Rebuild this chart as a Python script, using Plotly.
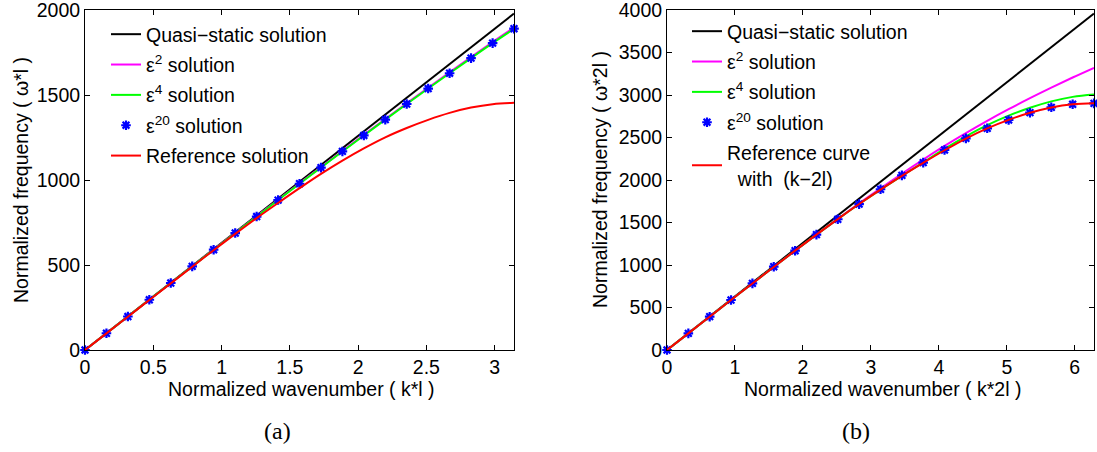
import plotly.graph_objects as go

# ---------------- data ----------------
# (a) normalized wavenumber k*l, 21 samples from 0 to pi
k_a = [0, 0.157, 0.314, 0.471, 0.628, 0.785, 0.942, 1.100, 1.257, 1.414, 1.571,
       1.728, 1.885, 2.042, 2.199, 2.356, 2.513, 2.670, 2.827, 2.985, 3.1416]
k_a_qs = [0, 3.1416]
w_a_qs = [0, 1979]
w_a_e2 = [0, 98.5, 197, 295.5, 394, 492.5, 591, 689, 786.5, 884, 980.5,
          1076, 1171, 1265.5, 1359, 1451, 1543, 1633.5, 1723, 1811.5, 1897]
w_a_e4 = [0, 98.5, 197, 295.5, 394, 492, 590, 688, 785, 882, 978,
          1073, 1168, 1262, 1355, 1447, 1538, 1628, 1717, 1805, 1889]
w_a_e20 = [0, 98.5, 197, 295.5, 394, 492, 590, 688, 785, 882, 978,
           1073, 1168, 1262, 1355, 1447, 1538, 1628, 1717, 1805, 1890]
w_a_ref = [0, 98, 196, 294, 392, 490, 587, 683, 776, 865, 952,
           1036, 1114, 1186, 1251, 1306, 1354, 1395, 1426, 1446, 1454]

# (b) normalized wavenumber k*2l, 21 samples from 0 to 2*pi
k_b = [0, 0.314, 0.628, 0.942, 1.257, 1.571, 1.885, 2.199, 2.513, 2.827, 3.142,
       3.456, 3.770, 4.084, 4.398, 4.712, 5.027, 5.341, 5.655, 5.969, 6.2832]
k_b_qs = [0, 6.2832]
w_b_qs = [0, 3958]
w_b_e2 = [0, 196, 392, 588, 783, 977, 1169, 1357, 1542, 1725, 1902,
          2074, 2240, 2401, 2552, 2696, 2833, 2963, 3087, 3206, 3320]
w_b_e4 = [0, 196, 392, 588, 783, 977, 1169, 1357, 1540, 1717, 1887,
          2049, 2207, 2366, 2514, 2645, 2757, 2850, 2925, 2978, 3006]
w_b_e20 = [0, 196, 392, 588, 784, 980, 1168, 1357, 1538, 1716, 1891,
           2055, 2204, 2353, 2490, 2608, 2706, 2792, 2855, 2891, 2902]
w_b_ref = [0, 196, 392, 588, 783, 977, 1169, 1357, 1540, 1717, 1887,
           2049, 2202, 2350, 2488, 2608, 2708, 2791, 2854, 2892, 2904]

xticks_a = [0, 0.5, 1, 1.5, 2, 2.5, 3]
xticklabels_a = ["0", "0.5", "1", "1.5", "2", "2.5", "3"]
yticks_a = [0, 500, 1000, 1500, 2000]
xticks_b = [0, 1, 2, 3, 4, 5, 6]
yticks_b = [0, 500, 1000, 1500, 2000, 2500, 3000, 3500, 4000]

names_a = ["Quasi\u2212static solution", "\u03b5<sup>2</sup> solution",
           "\u03b5<sup>4</sup> solution", "\u03b5<sup>20</sup> solution",
           "Reference solution"]
names_b = ["Quasi\u2212static solution", "\u03b5<sup>2</sup> solution",
           "\u03b5<sup>4</sup> solution", "\u03b5<sup>20</sup> solution",
           "Reference curve<br>\u00a0\u00a0with\u00a0\u00a0(k\u22122l)"]

# ---------------- styling ----------------
FONT = "Liberation Sans, Arial, Helvetica, sans-serif"
FS = 19.5
W, H = 1097, 452
colors = ["#000000", "#ff00ff", "#00ff00", "#0000ff", "#ff0000"]
LW = 2

fig = go.Figure()

def add_set(kx, kqs, qs, e2, e4, e20, ref, names, xa, ya, leg, tag):
    fig.add_trace(go.Scatter(x=kqs, y=qs, mode="lines", name=names[0],
                             line=dict(color=colors[0], width=LW),
                             xaxis=xa, yaxis=ya, legend=leg, legendgroup=tag + "0"))
    fig.add_trace(go.Scatter(x=kx, y=e2, mode="lines", name=names[1],
                             line=dict(color=colors[1], width=LW, shape="spline"),
                             xaxis=xa, yaxis=ya, legend=leg, legendgroup=tag + "1"))
    fig.add_trace(go.Scatter(x=kx, y=e4, mode="lines", name=names[2],
                             line=dict(color=colors[2], width=LW, shape="spline"),
                             xaxis=xa, yaxis=ya, legend=leg, legendgroup=tag + "2"))
    fig.add_trace(go.Scatter(x=kx, y=e20, mode="markers", name=names[3],
                             marker=dict(symbol="asterisk-open", size=8, color=colors[3],
                                         line=dict(color=colors[3], width=2.2)),
                             cliponaxis=False,
                             xaxis=xa, yaxis=ya, legend=leg, legendgroup=tag + "3"))
    fig.add_trace(go.Scatter(x=kx, y=ref, mode="lines", name=names[4],
                             line=dict(color=colors[4], width=LW, shape="spline"),
                             xaxis=xa, yaxis=ya, legend=leg, legendgroup=tag + "4"))

add_set(k_a, k_a_qs, w_a_qs, w_a_e2, w_a_e4, w_a_e20, w_a_ref, names_a, "x", "y", "legend", "a")
add_set(k_b, k_b_qs, w_b_qs, w_b_e2, w_b_e4, w_b_e20, w_b_ref, names_b, "x2", "y2", "legend2", "b")

def px_x(p):
    return p / W

def px_y(p):
    return 1 - p / H

ydom = [px_y(350), px_y(10)]
axis_common = dict(showline=True, linecolor="black", linewidth=1, mirror="ticks",
                   ticks="inside", ticklen=5, tickwidth=1, tickcolor="black",
                   showgrid=False, zeroline=False, automargin=False,
                   ticklabeloverflow="allow",
                   tickfont=dict(family=FONT, size=FS, color="black"))

fig.update_layout(
    width=W, height=H,
    margin=dict(l=0, r=0, t=0, b=0, autoexpand=False),
    paper_bgcolor="white", plot_bgcolor="white",
    font=dict(family=FONT, size=FS, color="black"),
    xaxis=dict(domain=[px_x(85), px_x(514)], range=[0, 3.1416],
               tickvals=xticks_a, ticktext=xticklabels_a, anchor="y", **axis_common),
    yaxis=dict(domain=ydom, range=[0, 2000], tickvals=yticks_a, anchor="x", **axis_common),
    xaxis2=dict(domain=[px_x(667), px_x(1094)], range=[0, 6.2832],
                tickvals=xticks_b, anchor="y2", **axis_common),
    yaxis2=dict(domain=ydom, range=[0, 4000], tickvals=yticks_b, anchor="x2", **axis_common),
    legend=dict(x=px_x(106), y=px_y(15), xanchor="left", yanchor="top",
                bgcolor="rgba(0,0,0,0)", borderwidth=0, tracegroupgap=2,
                font=dict(family=FONT, size=FS, color="black")),
    legend2=dict(x=px_x(687), y=px_y(12), xanchor="left", yanchor="top",
                 bgcolor="rgba(0,0,0,0)", borderwidth=0, tracegroupgap=2,
                 font=dict(family=FONT, size=FS, color="black")),
    showlegend=True,
)

annots = [
    dict(text="Normalized wavenumber ( k*l )", x=px_x(301), y=px_y(389)),
    dict(text="Normalized wavenumber ( k*2l )", x=px_x(882), y=px_y(389)),
    dict(text="Normalized frequency ( \u03c9*l )", x=px_x(21), y=px_y(180), textangle=-90),
    dict(text="Normalized frequency ( \u03c9*2l )", x=px_x(600), y=px_y(180), textangle=-90),
]
for a in annots:
    fig.add_annotation(xref="paper", yref="paper", showarrow=False,
                       xanchor="center", yanchor="middle",
                       font=dict(family=FONT, size=FS, color="black"), **a)

for lab, xc in [("(a)", 277), ("(b)", 856)]:
    fig.add_annotation(text=lab, xref="paper", yref="paper", x=px_x(xc), y=px_y(431),
                       showarrow=False, xanchor="center", yanchor="middle",
                       font=dict(family="Liberation Serif, DejaVu Serif, serif", size=24,
                                 color="black"))

fig.write_html("out.html", config={"displayModeBar": False},
               post_script="document.body.style.margin='0';document.body.style.padding='0';")
